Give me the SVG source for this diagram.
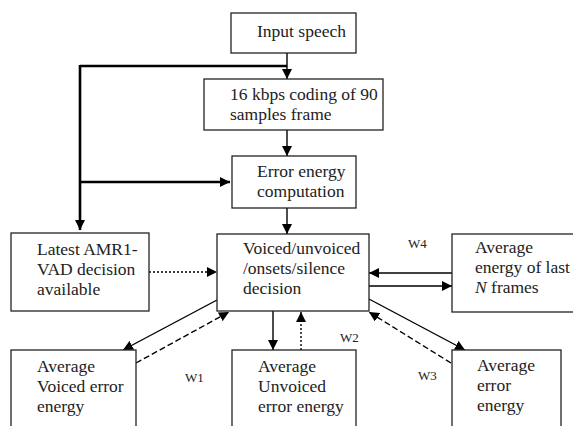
<svg xmlns="http://www.w3.org/2000/svg" width="573" height="426" viewBox="0 0 573 426">
<defs>
<marker id="ah" viewBox="0 0 10 10" refX="10" refY="5" markerWidth="10" markerHeight="10" markerUnits="userSpaceOnUse" orient="auto"><path d="M0,0 L10,5 L0,10 z" fill="#000"/></marker>
</defs>
<style>
.box{fill:#fff;stroke:#222;stroke-width:1.3}
.t{font-family:"Liberation Serif","Times New Roman",serif;font-size:17.5px;fill:#222}
.w{font-family:"Liberation Serif","Times New Roman",serif;font-size:13px;fill:#222}
.c{fill:none;stroke:#000;stroke-width:1.4}
.thick{fill:none;stroke:#000;stroke-width:2.6}
.dot{stroke-dasharray:2,2}
.dash{stroke-dasharray:6,3}
</style>
<rect width="573" height="426" fill="#fff"/>
<g id="connectors">
<path class="thick" d="M80,66 H287"/>
<path class="thick" d="M80,65 V230" marker-end="url(#ah)"/>
<path class="thick" d="M80,182 H230" marker-end="url(#ah)"/>
<path class="c" d="M287,53 V79" marker-end="url(#ah)"/>
<path class="c" d="M287,130 V156" marker-end="url(#ah)"/>
<path class="c" d="M287,208 V234" marker-end="url(#ah)"/>
<path class="c dot" d="M149,272 H217" marker-end="url(#ah)"/>
<path class="c" d="M452,273 H369" marker-end="url(#ah)"/>
<path class="c" d="M369,286 H452" marker-end="url(#ah)"/>
<path class="c" d="M273,311 V350" marker-end="url(#ah)"/>
<path class="c dot" d="M301,350 V312" marker-end="url(#ah)"/>
<path class="c" d="M217,300 L123,350" marker-end="url(#ah)"/>
<path class="c dash" d="M136,363 L229,312" marker-end="url(#ah)"/>
<path class="c" d="M369,299 L465,350" marker-end="url(#ah)"/>
<path class="c dash" d="M451,363 L369,312" marker-end="url(#ah)"/>
</g>
<g id="input">
<rect class="box" x="231" y="13" width="125" height="40"/>
<text class="t" x="257" y="37">Input speech</text>
</g>
<g id="coding">
<rect class="box" x="204" y="79" width="179" height="51"/>
<text class="t" x="230" y="100">16 kbps coding of 90</text>
<text class="t" x="230" y="120">samples frame</text>
</g>
<g id="error">
<rect class="box" x="232" y="156" width="124" height="52"/>
<text class="t" x="257" y="177">Error energy</text>
<text class="t" x="257" y="197">computation</text>
</g>
<g id="amr">
<rect class="box" x="11" y="233" width="138" height="78"/>
<text class="t" x="37" y="255">Latest AMR1-</text>
<text class="t" x="37" y="275">VAD decision</text>
<text class="t" x="37" y="295">available</text>
</g>
<g id="decision">
<rect class="box" x="217" y="234" width="152" height="77"/>
<text class="t" x="243" y="254">Voiced/unvoiced</text>
<text class="t" x="243" y="274">/onsets/silence</text>
<text class="t" x="243" y="294">decision</text>
</g>
<g id="lastN">
<rect class="box" x="452" y="234" width="130" height="78"/>
<text class="t" x="475" y="253">Average</text>
<text class="t" x="475" y="273">energy of last</text>
<text class="t" x="475" y="293"><tspan font-style="italic">N</tspan> frames</text>
</g>
<g id="voicedErr">
<rect class="box" x="11" y="350" width="125" height="90"/>
<text class="t" x="37" y="372">Average</text>
<text class="t" x="37" y="392">Voiced error</text>
<text class="t" x="37" y="412">energy</text>
</g>
<g id="unvoicedErr">
<rect class="box" x="232" y="350" width="124" height="90"/>
<text class="t" x="258" y="372">Average</text>
<text class="t" x="258" y="392">Unvoiced</text>
<text class="t" x="258" y="412">error energy</text>
</g>
<g id="avgErr">
<rect class="box" x="452" y="350" width="109" height="90"/>
<text class="t" x="477" y="371">Average</text>
<text class="t" x="477" y="391">error</text>
<text class="t" x="477" y="411">energy</text>
</g>
<g id="labels">
<text class="w" x="408" y="248">W4</text>
<text class="w" x="340" y="342">W2</text>
<text class="w" x="418" y="380">W3</text>
<text class="w" x="185" y="382">W1</text>
</g>
</svg>
